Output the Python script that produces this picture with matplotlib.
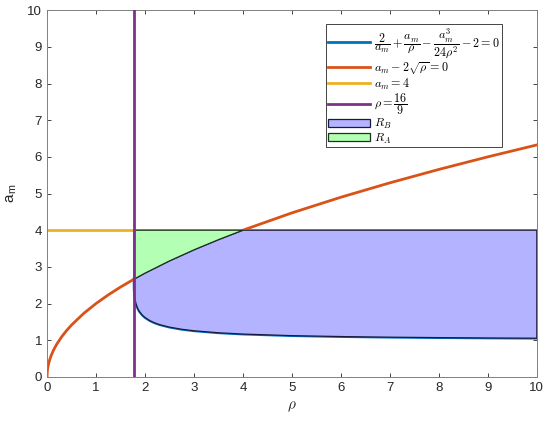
import numpy as np
import matplotlib.pyplot as plt

plt.rcParams['mathtext.fontset'] = 'cm'
plt.rcParams['font.family'] = ['Liberation Sans', 'DejaVu Sans']

# lower root of 2/a + a/rho - a^3/(24 rho^2) - 2 = 0
rho_b = [16/9, 1.778, 1.78, 1.785, 1.79, 1.80, 1.81, 1.82, 1.85, 1.875, 1.90, 1.95,
         2.0, 2.1, 2.2, 2.3, 2.5, 2.75, 3.0, 3.5, 4.0, 5.0, 6.0, 7.0, 8.0, 9.0, 10.0]
am_b = [2.667, 2.55, 2.40, 2.265, 2.195, 2.10, 2.035, 1.985, 1.877, 1.81, 1.762,
        1.681, 1.621, 1.535, 1.473, 1.4255, 1.357, 1.299, 1.258, 1.203, 1.168,
        1.125, 1.100, 1.083, 1.071, 1.062, 1.055]

# a_m = 2 sqrt(rho)
rho_o = [0, 0.005, 0.01, 0.02, 0.03, 0.05, 0.075, 0.1, 0.15, 0.2, 0.3, 0.4, 0.5,
         0.75, 1.0, 1.25, 1.5, 16/9, 2.0, 2.5, 3.0, 3.5, 4.0, 5.0, 6.0, 7.0, 8.0,
         9.0, 10.0]
am_o = [0, 0.1414, 0.2, 0.2828, 0.3464, 0.4472, 0.5477, 0.6325, 0.7746, 0.8944,
        1.0954, 1.2649, 1.4142, 1.7321, 2.0, 2.2361, 2.4495, 2.6667, 2.8284, 3.1623,
        3.4641, 3.7417, 4.0, 4.4721, 4.8990, 5.2915, 5.6569, 6.0, 6.3246]

am_const = 4
rho_const = 16/9

blue = '#0072BD'
orange = '#D95319'
yellow = '#EDB120'
purple = '#7E2F8E'

fig = plt.figure(figsize=(5.5, 4.23), dpi=100)
ax = fig.add_axes([0.0855, 0.109, 0.8905, 0.867])

l1, = ax.plot(rho_b, am_b, color=blue, lw=2, zorder=2)
l2, = ax.plot(rho_o, am_o, color=orange, lw=2, zorder=2)
l3, = ax.plot([0, 10], [am_const, am_const], color=yellow, lw=2, zorder=2)
l4, = ax.plot([rho_const, rho_const], [0, 10], color=purple, lw=2, zorder=4)

# regions
rho_o_arr = np.array(rho_o)
am_o_arr = np.array(am_o)
seg = (rho_o_arr >= rho_const) & (rho_o_arr <= 4)
top_x = list(rho_o_arr[seg]) + [10]
top_y = list(am_o_arr[seg]) + [am_const]
pb = ax.fill(top_x + rho_b[::-1], top_y + am_b[::-1], facecolor='#b3b3ff',
             edgecolor='#1a1a40', lw=0.9, zorder=3)[0]
pa = ax.fill(list(rho_o_arr[seg]) + [rho_const], list(am_o_arr[seg]) + [am_const],
             facecolor='#b3ffb3', edgecolor='#1a331a', lw=0.9, zorder=3)[0]

ax.set_xlim(0, 10)
ax.set_ylim(0, 10)
ax.set_xticks(range(0, 11))
ax.set_yticks(range(0, 11))
ax.tick_params(direction='in', top=True, right=True, labelsize=9.5,
               colors='#262626', length=3, width=0.6)
for s in ax.spines.values():
    s.set_color('#808080')
    s.set_linewidth(0.7)
ax.set_xlabel(r'$\rho$', fontsize=11, color='#262626')
ax.set_ylabel(r'a$_\mathregular{m}$', fontsize=11, color='#262626', labelpad=6)

labels = [r'$\dfrac{2}{a_m}+\dfrac{a_m}{\rho}-\dfrac{a_m^3}{24\rho^2}-2=0$',
          r'$a_m-2\sqrt{\rho}=0$', r'$a_m=4$', r'$\rho=\dfrac{16}{9}$',
          r'$R_B$', r'$R_A$']
leg = ax.legend([l1, l2, l3, l4, pb, pa], labels, loc='upper right',
                bbox_to_anchor=(0.929, 0.962), fontsize=8.7, fancybox=False,
                framealpha=1, edgecolor='#262626', borderpad=0.15,
                labelspacing=0.0, handlelength=3.5, handletextpad=0.35,
                borderaxespad=0)
leg.get_frame().set_linewidth(0.6)

fig.savefig('out.png')
